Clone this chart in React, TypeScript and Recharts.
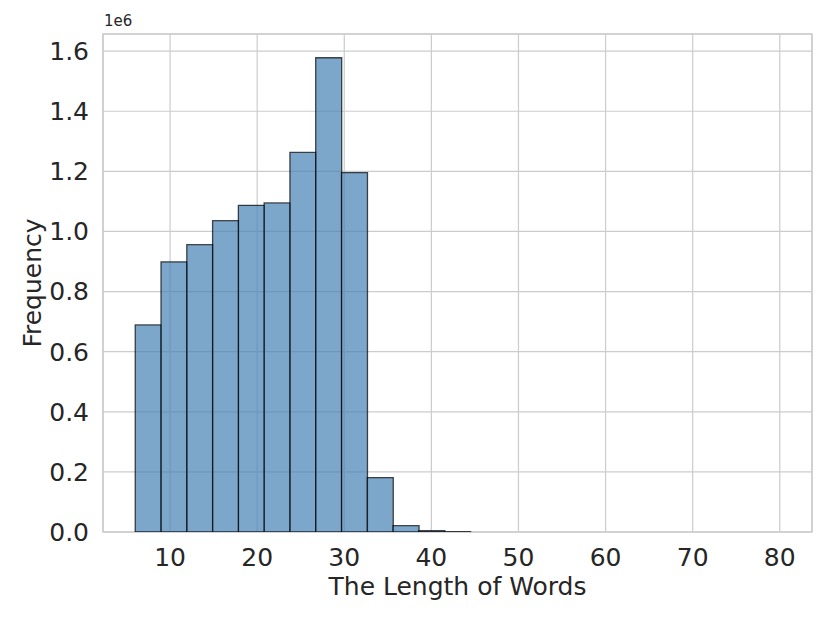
import React from 'react'
import {
  ComposedChart,
  Bar,
  XAxis,
  YAxis,
  CartesianGrid,
  ReferenceArea
} from 'recharts'

// histogram bin edges (word length) and counts per bin
const binEdges = [
  6, 8.96, 11.92, 14.88, 17.84, 20.8, 23.76, 26.72, 29.68, 32.64, 35.6, 38.56,
  41.52, 44.48, 47.44, 50.4, 53.36, 56.32, 59.28, 62.24, 65.2, 68.16, 71.12,
  74.08, 77.04, 80
]
const binCounts = [
  689000, 899000, 956000, 1036000, 1087000, 1095000, 1263000, 1578000, 1196000,
  181000, 21000, 4500, 1200, 0, 0, 0, 0, 0, 0, 0, 0, 0, 0, 0, 0
]
const xTicks = [10, 20, 30, 40, 50, 60, 70, 80]
const yTicks = [0, 200000, 400000, 600000, 800000, 1000000, 1200000, 1400000, 1600000]

const data = binCounts.map((count, i) => ({
  mid: (binEdges[i] + binEdges[i + 1]) / 2,
  count
}))

const FONT = '"DejaVu Sans", sans-serif'
const TEXT = '#262626'
const GRID = '#cccccc'
const FS = 25

export default function App () {
  return (
    <div style={{ position: 'relative', width: 830, height: 623, margin: -8, fontFamily: FONT }}>
      <ComposedChart
        width={830}
        height={623}
        data={data}
        margin={{ top: 34, right: 18, left: 20, bottom: 0 }}
        barCategoryGap={0}
        barGap={0}
      >
        <CartesianGrid stroke={GRID} strokeWidth={1.2} />
        <XAxis
          dataKey="mid"
          type="number"
          domain={[2.3, 83.7]}
          ticks={xTicks}
          allowDataOverflow
          height={91}
          tickLine={false}
          axisLine={false}
          tickSize={0}
          tickMargin={16}
          tick={{ fill: TEXT, fontSize: FS, fontFamily: FONT }}
          label={{
            content: ({ viewBox }: any) => (
              <text
                x={viewBox.x + viewBox.width / 2}
                y={595}
                textAnchor="middle"
                fill={TEXT}
                fontSize={FS}
                fontFamily={FONT}
              >
                The Length of Words
              </text>
            )
          }}
        />
        <YAxis
          type="number"
          domain={[0, 1657000]}
          ticks={yTicks}
          allowDataOverflow
          width={83}
          tickLine={false}
          axisLine={false}
          tickSize={0}
          tickMargin={14}
          tickFormatter={(v: number) => (v / 1e6).toFixed(1)}
          tick={{ fill: TEXT, fontSize: FS, fontFamily: FONT }}
          label={{
            content: ({ viewBox }: any) => {
              const cx = 41
              const cy = viewBox.y + viewBox.height / 2
              return (
                <text
                  x={cx}
                  y={cy}
                  transform={`rotate(-90 ${cx} ${cy})`}
                  textAnchor="middle"
                  fill={TEXT}
                  fontSize={FS}
                  fontFamily={FONT}
                >
                  Frequency
                </text>
              )
            }
          }}
        />
        <Bar
          dataKey="count"
          fill="steelblue"
          fillOpacity={0.7}
          stroke="#000000"
          strokeOpacity={0.7}
          strokeWidth={1.3}
          isAnimationActive={false}
        />
        <ReferenceArea
          x1={2.3}
          x2={83.7}
          y1={0}
          y2={1657000}
          fill="none"
          stroke={GRID}
          strokeWidth={1.5}
          ifOverflow="visible"
        />
      </ComposedChart>
      <div
        style={{
          position: 'absolute',
          left: 104,
          top: 12,
          fontSize: 15,
          color: TEXT,
          lineHeight: '18px'
        }}
      >
        1e6
      </div>
    </div>
  )
}
